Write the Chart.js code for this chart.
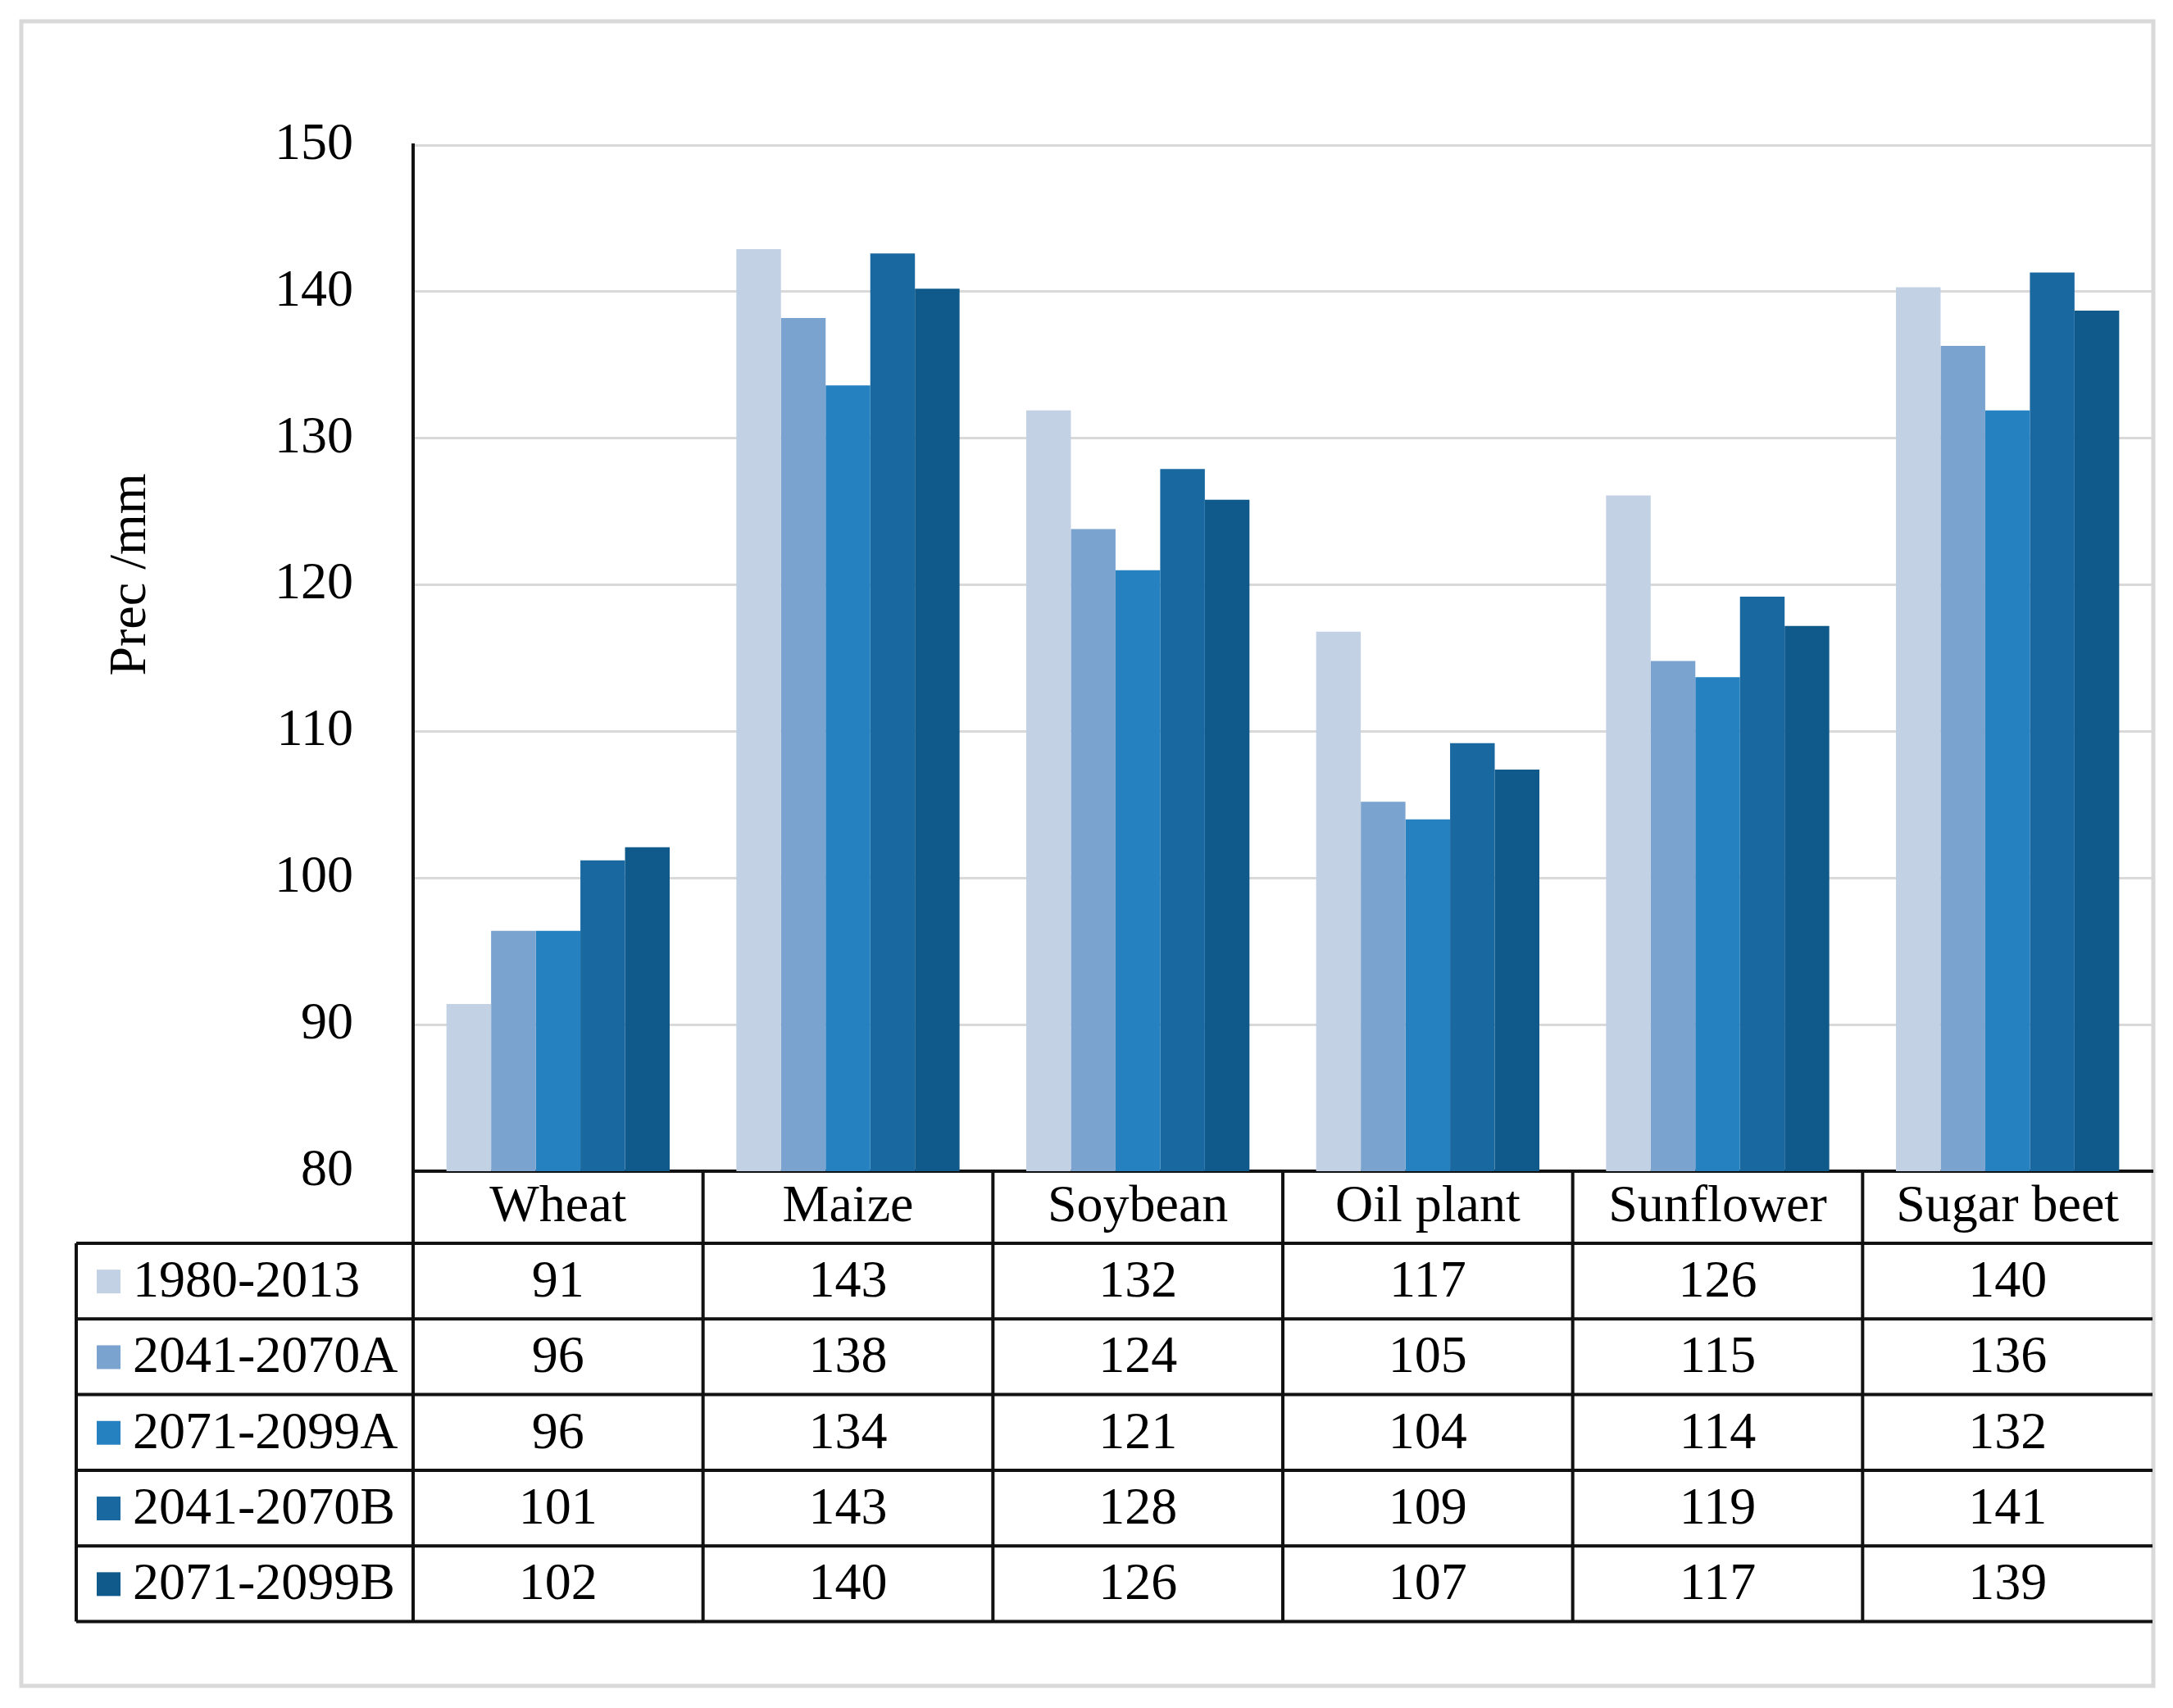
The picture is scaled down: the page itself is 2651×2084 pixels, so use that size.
<!DOCTYPE html>
<html>
<head>
<meta charset="utf-8">
<script src="https://cdn.jsdelivr.net/npm/chart.js@4.4.1/dist/chart.umd.min.js"></script>
<style>
    body { margin: 0; background: #fff; }
    #wrap { width: 2651px; height: 2084px; position: relative; }
</style>
</head>
<body>
<div id="wrap"><canvas id="myChart"></canvas></div>
<script>
const ctx = document.getElementById('myChart').getContext("2d");

// crops on the x axis
const labels = ['Wheat', 'Maize', 'Soybean', 'Oil plant', 'Sunflower', 'Sugar beet'];

// periods / scenarios
const periods = ['1980-2013', '2041-2070A', '2071-2099A', '2041-2070B', '2071-2099B'];

// values (table shows them rounded)
const prec1980 = [91.4, 142.9, 131.9, 116.8, 126.1, 140.3];
const prec2041A = [96.4, 138.2, 123.8, 105.2, 114.8, 136.3];
const prec2071A = [96.4, 133.6, 121.0, 104.0, 113.7, 131.9];
const prec2041B = [101.2, 142.6, 127.9, 109.2, 119.2, 141.3];
const prec2071B = [102.1, 140.2, 125.8, 107.4, 117.2, 138.7];

const yTicks = [80, 90, 100, 110, 120, 130, 140, 150];

const colors = ['#c3d1e5', '#7ba3cf', '#2681c1', '#1a68a0', '#0f5a8a'];

const FONT = 'Liberation Serif, Times New Roman, serif';

const series = [prec1980, prec2041A, prec2071A, prec2041B, prec2071B];

// frame, y title and the data table under the plot
const tablePlugin = {
    id: 'dataTable',
    beforeDraw(chart) {
        const c = chart.ctx;
        c.save();
        c.fillStyle = '#fff';
        c.fillRect(0, 0, chart.width, chart.height);
        c.strokeStyle = '#d9d9d9';
        c.lineWidth = 5;
        c.strokeRect(26, 26, 2601, 2031);
        c.restore();
    },
    afterDraw(chart) {
        const c = chart.ctx;
        const x = chart.scales.x;
        const area = chart.chartArea;
        const colW = x.getPixelForValue(1) - x.getPixelForValue(0);
        const headerH = 88;
        const rowH = 92.3;
        const tableTop = area.bottom + headerH;
        const tableLeft = 93;
        const tableBottom = tableTop + rowH * periods.length;

        c.save();
        c.strokeStyle = '#111';
        c.lineWidth = 4;
        c.beginPath();
        // horizontal rules
        for (let r = 0; r <= periods.length; r++) {
            const y = tableTop + r * rowH;
            c.moveTo(tableLeft, y);
            c.lineTo(area.right, y);
        }
        // left border
        c.moveTo(tableLeft, tableTop);
        c.lineTo(tableLeft, tableBottom);
        // column borders
        for (let i = 0; i < labels.length; i++) {
            const bx = x.getPixelForValue(i) - colW / 2;
            c.moveTo(bx, area.bottom);
            c.lineTo(bx, tableBottom);
        }
        c.stroke();

        c.font = '64px ' + FONT;
        c.fillStyle = '#000';
        c.textBaseline = 'middle';
        periods.forEach(function (p, r) {
            const cy = tableTop + r * rowH + rowH / 2;
            c.fillStyle = colors[r];
            c.fillRect(118, cy - 14, 29, 29);
            c.fillStyle = '#000';
            c.textAlign = 'left';
            c.fillText(p, 162, cy + 2);
            c.textAlign = 'center';
            series[r].forEach(function (v, i) {
                c.fillText(String(Math.round(v)), x.getPixelForValue(i), cy + 2);
            });
        });

        // y axis title
        c.translate(160, 701);
        c.rotate(-Math.PI / 2);
        c.textAlign = 'center';
        c.fillText('Prec /mm', 0, 0);
        c.restore();
    }
};

const data = {
    labels,
    datasets: periods.map(function (p, i) {
        return {
            label: p,
            data: series[i],
            backgroundColor: colors[i],
            borderWidth: 0,
            categoryPercentage: 0.77,
            barPercentage: 1
        };
    })
};

const config = {
    type: 'bar',
    data: data,
    plugins: [tablePlugin],
    options: {
        responsive: true,
        maintainAspectRatio: false,
        devicePixelRatio: 1,
        animation: false,
        layout: {
            padding: { top: 177, right: 25, left: 0, bottom: 0 }
        },
        plugins: {
            legend: { display: false },
            tooltip: { enabled: false }
        },
        scales: {
            x: {
                grid: { display: false, drawTicks: false },
                border: { display: true, color: '#111', width: 4 },
                ticks: {
                    color: '#000',
                    padding: 6,
                    font: { family: FONT, size: 64 }
                },
                afterFit: function (scale) {
                    scale.height = 655;
                }
            },
            y: {
                min: 80,
                max: 150,
                afterBuildTicks: function (scale) {
                    scale.ticks = yTicks.map(function (v) { return { value: v }; });
                },
                grid: { color: '#d9d9d9', lineWidth: 3, drawTicks: false },
                border: { display: true, color: '#111', width: 4 },
                ticks: {
                    color: '#000',
                    padding: 73,
                    font: { family: FONT, size: 64 }
                },
                afterFit: function (scale) {
                    scale.width = 504;
                }
            }
        }
    }
};

const myChart = new Chart(ctx, config);
</script>
</body>
</html>
